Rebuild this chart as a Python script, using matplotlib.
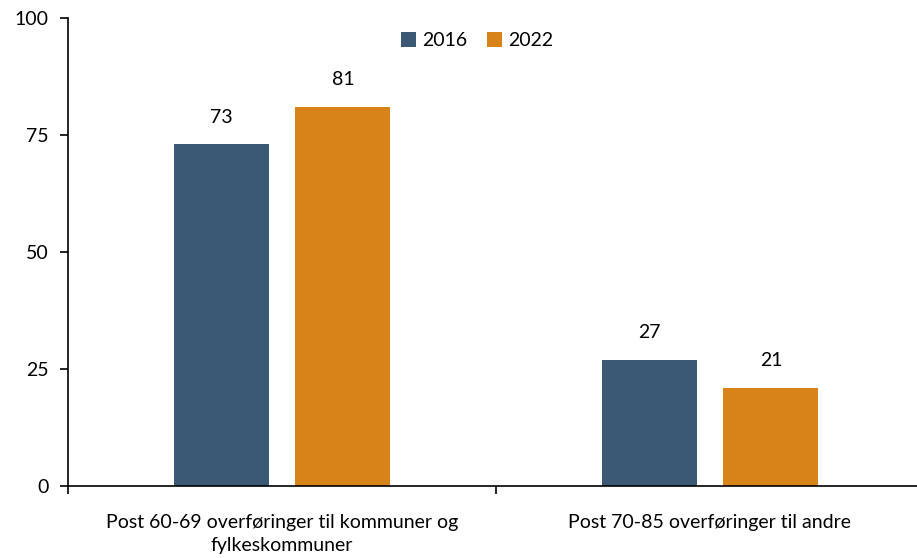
import matplotlib.pyplot as plt
import numpy as np

plt.rcParams['font.family'] = ['Lato', 'DejaVu Sans']

categories = ['Post 60-69 overføringer til kommuner og\nfylkeskommuner',
              'Post 70-85 overføringer til andre']
years = ['2016', '2022']
values_2016 = [73, 27]
values_2022 = [81, 21]
colors = ['#3B5875', '#D8821A']


def main():
    fig = plt.figure(figsize=(9.17, 5.58), dpi=100)
    # plottet går litt forbi høyre kant, som i originalen
    ax = fig.add_axes([68 / 917, 1 - 486 / 558, 856 / 917, 468 / 558])

    x = np.arange(len(categories))
    w = 0.222
    off = 0.1425
    for i, (vals, year) in enumerate(zip([values_2016, values_2022], years)):
        pos = x + (-off if i == 0 else off)
        bars = ax.bar(pos, vals, width=w, color=colors[i], label=year)
        for b, v in zip(bars, vals):
            ax.text(b.get_x() + b.get_width() / 2, v + 4, str(v),
                    ha='center', va='bottom', fontsize=14)

    ax.set_xlim(-0.5, 1.5)
    ax.set_ylim(0, 100)
    ax.set_yticks([0, 25, 50, 75, 100])
    ax.tick_params(axis='y', labelsize=14, length=6, width=1.2, pad=8)

    ax.set_xticks(x)
    ax.set_xticklabels(categories, fontsize=14, linespacing=1.45)
    ax.tick_params(axis='x', length=0, pad=20)
    ax.set_xticks([-0.5, 0.5, 1.5], minor=True)
    ax.tick_params(axis='x', which='minor', length=6, width=1.2)

    for s in ['top', 'right']:
        ax.spines[s].set_visible(False)
    ax.spines['left'].set_linewidth(1.2)
    ax.spines['bottom'].set_linewidth(1.2)

    ax.legend(loc='upper center', bbox_to_anchor=(0.478, 1.007), ncol=2,
              frameon=False, fontsize=14, handlelength=0.8, handleheight=0.8,
              handletextpad=0.3, columnspacing=1.0)

    fig.savefig('out.png', dpi=100)


if __name__ == "__main__":
    main()
